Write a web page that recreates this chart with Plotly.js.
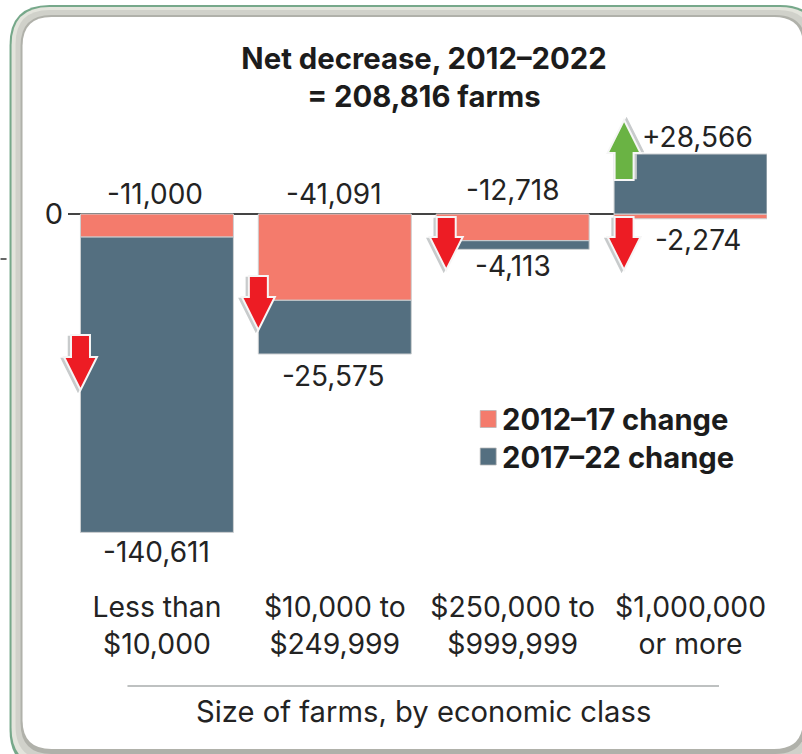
<!DOCTYPE html>
<html>
<head>
<meta charset="utf-8">
<script src="https://cdn.plot.ly/plotly-3.0.1.min.js"></script>
<style>html,body{margin:0;padding:0;background:#fff;overflow:hidden}#chart{width:802px;height:754px}</style>
</head>
<body>
<div id="chart"></div>
<script>
// Net change in US farm numbers by economic class, 2012-2022
const farmClasses = ["Less than<br>$10,000", "$10,000 to<br>$249,999", "$250,000 to<br>$999,999", "$1,000,000<br>or more"];
const change2012to17 = [-11000, -41091, -12718, -2274];
const change2017to22 = [-140611, -25575, -4113, 28566];
const seriesNames = ["2012–17 change", "2017–22 change"];
const titleLines = ["Net decrease, 2012–2022", "= 208,816 farms"];
const xAxisLabel = "Size of farms, by economic class";

const W = 802, H = 754;
const FONT = "Inter, sans-serif";
const INK = "#232323";
const SALMON = "#f47b6c", SLATE = "#546f80";

// Plot box in pixels; the y range fixes the scale at about 2.1 px per 1,000 farms
const plot = {l: 67.5, r: 767, t: 100, b: 585};
const pxPerFarm = 0.0021, zeroPx = 214;
const yRange = [-(plot.b - zeroPx) / pxPerFarm, (zeroPx - plot.t) / pxPerFarm];

const fmt = v => (v > 0 ? "+" : "") + v.toLocaleString("en-US");

// Value labels sit just past the end of each stack segment
function valueLabel(i, y, v, dx, dy) {
  return {x: i, y: y, xref: "x", yref: "y", text: fmt(v), showarrow: false, xshift: dx, yshift: dy,
          font: {family: FONT, size: 28, color: INK}, xanchor: "center", yanchor: "middle"};
}
const annotations = [
  valueLabel(0, 0, change2012to17[0], -2, 20),
  valueLabel(1, 0, change2012to17[1], -1, 20),
  valueLabel(2, 0, change2012to17[2], 0, 24),
  valueLabel(3, change2012to17[3], change2012to17[3], 7, -21),
  valueLabel(0, change2012to17[0] + change2017to22[0], change2017to22[0], 0, -20),
  valueLabel(1, change2012to17[1] + change2017to22[1], change2017to22[1], -1, -22),
  valueLabel(2, change2012to17[2] + change2017to22[2], change2017to22[2], 0, -17),
  valueLabel(3, change2017to22[3], change2017to22[3], 7, 17)
];

// Pixel-to-paper helpers for decoration drawn over the plot
const px = x => (x - plot.l) / (plot.r - plot.l);
const py = y => (plot.b - y) / (plot.b - plot.t);
const toPath = pts => "M" + pts.map(p => px(p[0]).toFixed(5) + "," + py(p[1]).toFixed(5)).join("L") + "Z";

// Legend entries are set by hand so the swatches can be drawn at full size
seriesNames.forEach((name, k) => {
  annotations.push({xref: "paper", yref: "paper", x: px(499.5), y: py(419 + 38 * k), text: "<b>" + name + "</b>",
    showarrow: false, xanchor: "left", yanchor: "middle", font: {family: FONT, size: 29.2, color: "#1c1c1c"}});
});

// Axis caption, centred under the rule rather than under the plot box
annotations.push({xref: "paper", yref: "paper", x: px(423), y: py(711), text: xAxisLabel, showarrow: false,
  xanchor: "center", yanchor: "middle", font: {family: FONT, size: 29.2, color: INK}});

function arrowPts(cx, tail, wing, tip, shaft, head) {
  return [[cx - shaft, tail], [cx + shaft, tail], [cx + shaft, wing], [cx + head, wing], [cx, tip],
          [cx - head, wing], [cx - shaft, wing]];
}
function arrow(cx, tail, wing, tip, fill, shadeDx) {
  const pts = arrowPts(cx, tail, wing, tip, 9.5, 16.5);
  const shade = pts.map(p => [p[0] + shadeDx, p[1] + 1.5 * Math.sign(tip - tail)]);
  return [
    {type: "path", xref: "paper", yref: "paper", path: toPath(shade), fillcolor: "#c8cbcc", line: {color: "#c8cbcc", width: 1.5}, layer: "above"},
    {type: "path", xref: "paper", yref: "paper", path: toPath(pts), fillcolor: fill, line: {color: "#f6f6f6", width: 2}, layer: "above"}
  ];
}

// Rounded card outline, expressed in page pixels
function roundRect(x0, y0, x1, y1, r) {
  const c = (x, y) => px(x).toFixed(5) + "," + py(y).toFixed(5);
  return "M" + c(x0 + r, y0) + "L" + c(x1 - r, y0) + "Q" + c(x1, y0) + " " + c(x1, y0 + r) +
    "L" + c(x1, y1 - r) + "Q" + c(x1, y1) + " " + c(x1 - r, y1) + "L" + c(x0 + r, y1) +
    "Q" + c(x0, y1) + " " + c(x0, y1 - r) + "L" + c(x0, y0 + r) + "Q" + c(x0, y0) + " " + c(x0 + r, y0) + "Z";
}
const frame = [
  {x0: 9, y0: 5, x1: 820, y1: 770, r: 40, fill: "#76a88a"},
  {x0: 11, y0: 7, x1: 818, y1: 766, r: 38, fill: "#e3e4dc"},
  {x0: 15, y0: 10, x1: 812, y1: 760, r: 34, fill: "#d0d1ca"},
  {x0: 20, y0: 15, x1: 806, y1: 754, r: 31, fill: "#b0b1aa"},
  {x0: 22, y0: 17, x1: 803, y1: 749, r: 29, fill: "#ffffff"}
].map(f => ({type: "path", xref: "paper", yref: "paper", path: roundRect(f.x0, f.y0, f.x1, f.y1, f.r),
             fillcolor: f.fill, line: {width: 0}, layer: "below"}));

const swatches = [SALMON, SLATE].map((c, k) => ({type: "rect", xref: "paper", yref: "paper",
  x0: px(480), x1: px(496), y0: py(410.5 + 37.5 * k), y1: py(427.5 + 37.5 * k), fillcolor: c, line: {color: "#b5b5b5", width: 0.75}}));

const shapes = frame.concat(
  swatches,
  arrow(80, 335, 357, 390, "#ed1c24", -2.5),
  arrow(258, 276, 297, 330, "#ed1c24", -2.5),
  arrow(446, 217, 237, 270, "#ed1c24", -2.5),
  arrow(624, 217, 237, 270, "#ed1c24", -2.5),
  arrow(624, 180, 153, 120, "#6ab344", 2.5),
  [
    // rule above the axis caption
    {type: "line", xref: "paper", yref: "paper", x0: px(127), x1: px(719), y0: py(686), y1: py(686), line: {color: "#a9adad", width: 1.5}},
    // tick mark at the left page edge
    {type: "line", xref: "paper", yref: "paper", x0: px(0), x1: px(6), y0: py(259), y1: py(259), line: {color: "#333", width: 1.5}}
  ]
);

const edge = {color: "#cdd0d2", width: 1};
const traces = [
  {type: "bar", name: seriesNames[0], x: [0, 1, 2, 3], y: change2012to17, marker: {color: SALMON, line: edge}},
  {type: "bar", name: seriesNames[1], x: [0, 1, 2, 3], y: change2017to22, marker: {color: SLATE, line: edge}}
];

const layout = {
  width: W, height: H,
  paper_bgcolor: "#ffffff", plot_bgcolor: "rgba(0,0,0,0)",
  barmode: "relative", bargap: 0.14,
  margin: {l: plot.l, r: W - plot.r, t: plot.t, b: H - plot.b, pad: 0},
  font: {family: FONT, color: INK, size: 27},
  title: {text: "<b>" + titleLines.join("<br>") + "</b>", x: 424 / W, xanchor: "center", y: 1 - 69 / H, yanchor: "top",
          font: {family: FONT, size: 29.3, color: "#1c1c1c"}},
  xaxis: {
    type: "linear", range: [-0.5, -0.5 + (plot.r - plot.l) / 178], tickvals: [0, 1, 2, 3], ticktext: farmClasses,
    showgrid: false, zeroline: false, showline: false, ticks: "", ticklabelstandoff: 3,
    tickfont: {family: FONT, size: 28.3, color: INK}
  },
  yaxis: {
    range: yRange, tickvals: [0], ticktext: ["0"], showgrid: false,
    zeroline: true, zerolinecolor: "#444", zerolinewidth: 1.5, ticks: "", ticklabelstandoff: 4,
    tickfont: {family: FONT, size: 29, color: INK}
  },
  annotations: annotations,
  shapes: shapes,
  showlegend: false
};

Plotly.newPlot("chart", traces, layout, {staticPlot: true, displayModeBar: false});
</script>
</body>
</html>
